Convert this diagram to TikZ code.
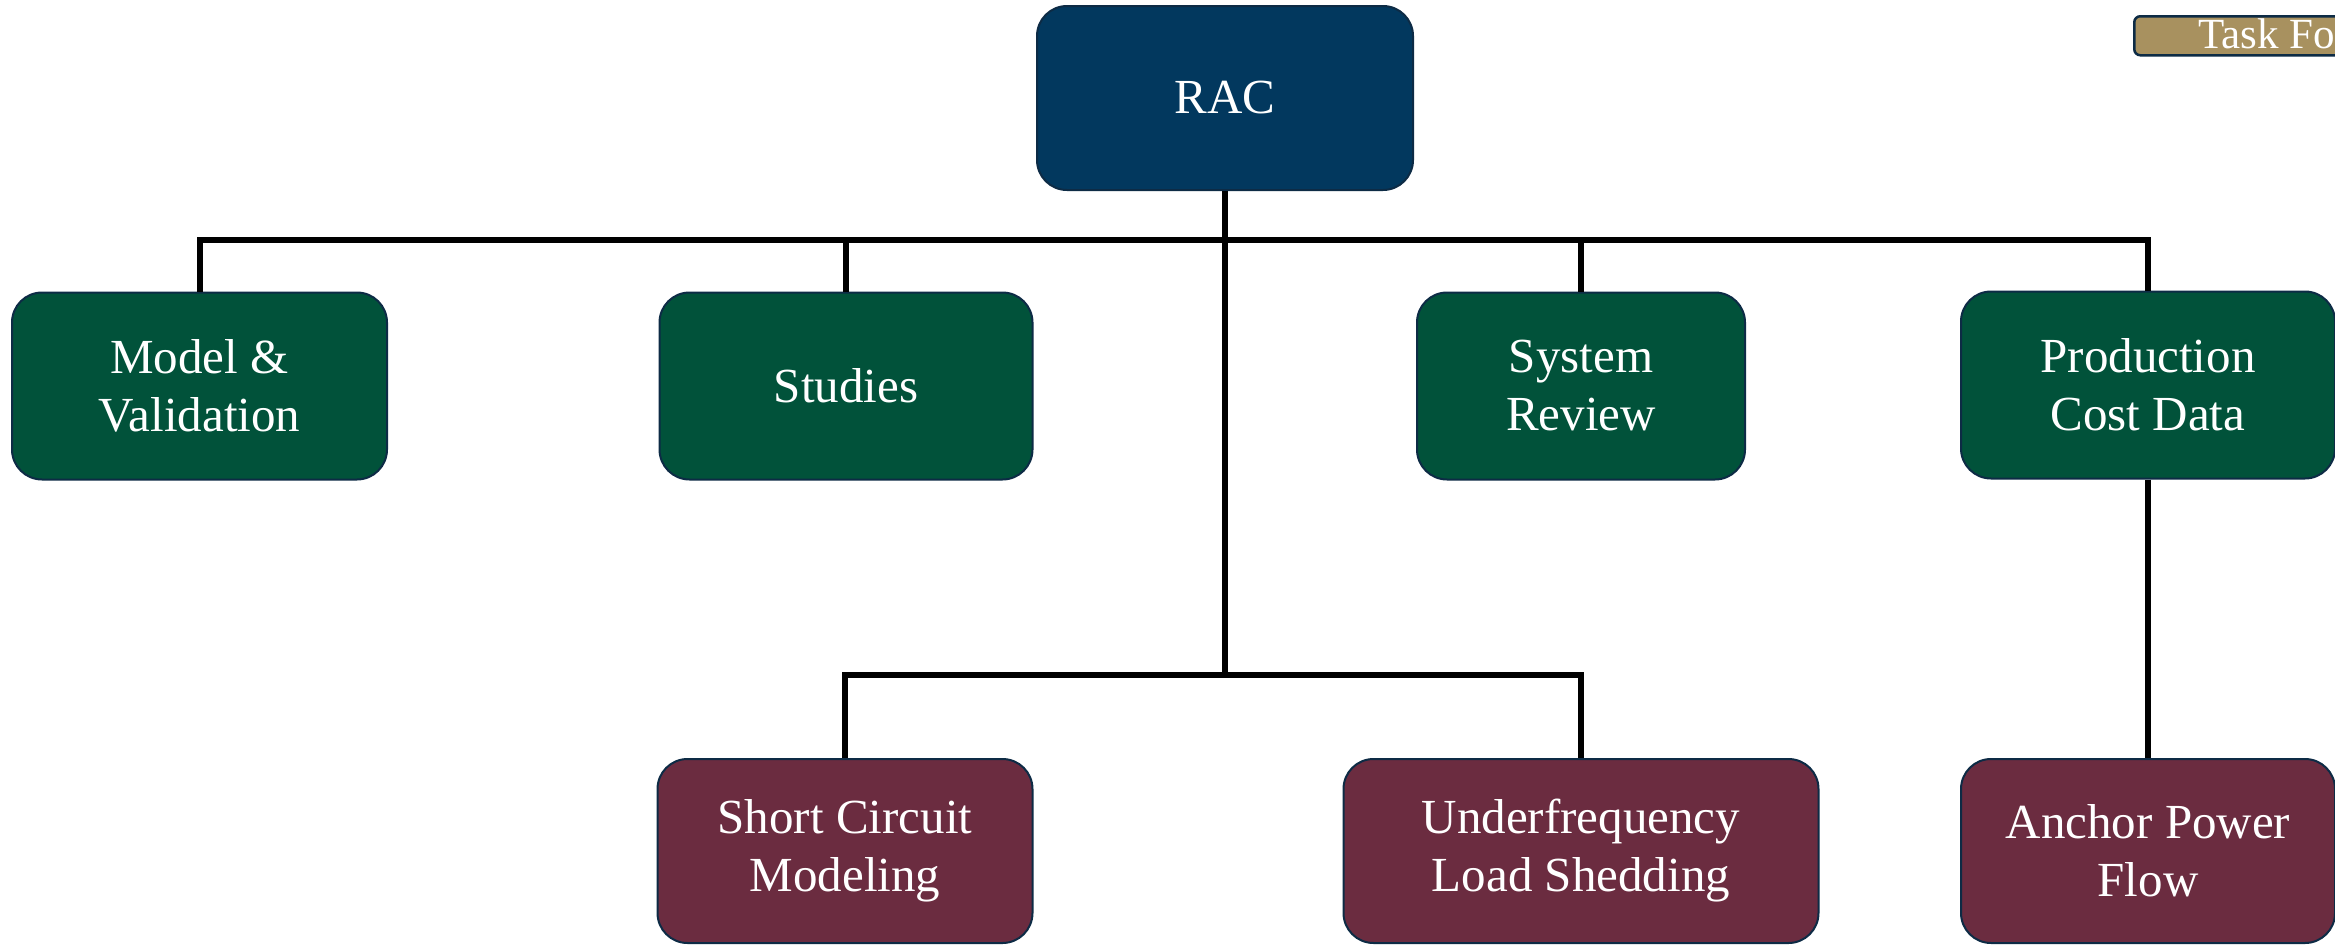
\documentclass[tikz,border=0pt]{standalone}
\usepackage{fontspec}
\setmainfont{Liberation Serif}
\definecolor{racblue}{HTML}{02385E}
\definecolor{boxgreen}{HTML}{01523A}
\definecolor{boxmaroon}{HTML}{6B2C40}
\definecolor{tasktan}{HTML}{A8915F}
\definecolor{edgenavy}{HTML}{0D2B45}
\tikzset{
  orgbox/.style={draw=edgenavy, line width=2pt, rounded corners=30pt, inner sep=0pt,
    text=white, align=center, font=\fontsize{49}{58}\selectfont},
  topbox/.style={orgbox, fill=racblue, minimum width=376pt, minimum height=184pt},
  midbox/.style={orgbox, fill=boxgreen, minimum height=187pt},
  lowbox/.style={orgbox, fill=boxmaroon, minimum height=184pt},
  conn/.style={draw=black, line width=6pt, line join=miter}
}
\begin{document}
\begin{tikzpicture}[x=1pt, y=-1pt]
\useasboundingbox (0,0) rectangle (2335,945);
\clip (0,0) rectangle (2335,945);
\fill[white] (0,0) rectangle (2335,945);

\coordinate (bus1) at (1225,240);
\coordinate (bus2) at (1225,675);

\node[topbox] (rac) at (1225,98) {RAC};
\node[midbox, minimum width=375pt] (mv) at (199.5,386) {Model \&\\Validation};
\node[midbox, minimum width=373pt] (st) at (846,386) {Studies};
\node[midbox, minimum width=328pt] (sr) at (1581,386) {System\\Review};
\node[midbox, minimum width=374pt] (pcd) at (2148,385) {Production\\Cost Data};
\node[lowbox, minimum width=375pt] (sc) at (845,851) {Short Circuit\\Modeling};
\node[lowbox, minimum width=475pt] (uf) at (1581,851) {Underfrequency\\Load Shedding};
\node[lowbox, minimum width=374pt] (apf) at (2148,851) {Anchor Power\\Flow};

\draw[conn] (mv.north) |- (bus1) -| (pcd.north);
\draw[conn] (st.north) -- (st.north |- bus1);
\draw[conn] (sr.north) -- (sr.north |- bus1);
\draw[conn] (rac.south) -- (bus2);
\draw[conn] (sc.north) |- (bus2) -| (uf.north);
\draw[conn] (pcd.south) -- (apf.north);

\node[draw=edgenavy, line width=2.5pt, fill=tasktan, rounded corners=6pt, inner sep=0pt,
  minimum width=330pt, minimum height=39pt, anchor=north west] (task) at (2133,15) {};
\node[text=white, anchor=base west, inner sep=0pt, font=\fontsize{43}{48}\selectfont] (tasklabel) at (2198,48) {Task Fo};
\end{tikzpicture}
\end{document}
